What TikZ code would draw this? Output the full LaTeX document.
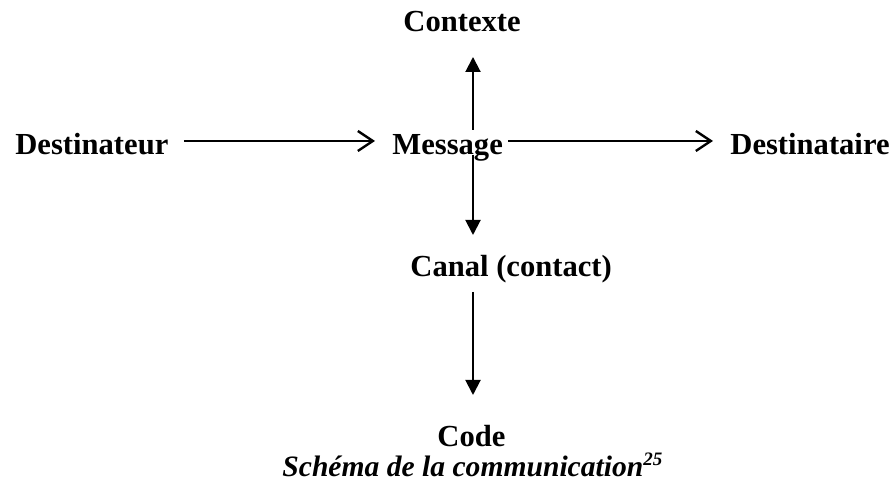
\documentclass[tikz,border=0pt]{standalone}
\usepackage{fontspec}
\setmainfont{Liberation Serif}
\usetikzlibrary{arrows.meta}
\begin{document}
\begin{tikzpicture}[x=0.5pt,y=0.5pt,
  lbl/.style={inner sep=0pt, anchor=base west, font=\fontsize{15.3}{18}\selectfont\bfseries},
  hor/.style={line width=1.1pt, -{Straight Barb[length=7.5pt,width=10pt,line width=1.2pt]}},
  ver/.style={line width=1pt, -{Triangle[length=7.5pt,width=7.5pt]}}]
  \useasboundingbox (0,0) rectangle (893,485);
  \node[lbl] (ctx) at (403,453) {Contexte};
  \node[lbl] (src) at (15,330) {Destinateur};
  \node[lbl] (msg) at (392,330) {Message};
  \node[lbl] (dst) at (730,330) {Destinataire};
  \node[lbl] (can) at (410,208) {Canal (contact)};
  \node[lbl] (cod) at (437,38) {Code};
  \node[lbl, font=\fontsize{14.8}{16}\selectfont\bfseries\itshape] (cap) at (282,8)
    {Schéma de la communication\raisebox{5.5pt}{\fontsize{9.5}{10}\selectfont 25}};
  \coordinate (axis) at (473,0);
  % horizontal flow
  \draw[hor] ([xshift=7.5pt,yshift=7pt]src.base east) -- ([xshift=-8.5pt,yshift=7pt]msg.base west);
  \draw[hor] ([xshift=2.5pt,yshift=7pt]msg.base east) -- ([xshift=-8.5pt,yshift=7pt]dst.base west);
  % vertical flow
  \draw[ver] ([yshift=12.5pt]msg.base -| axis) -- ([yshift=-12.5pt]ctx.base -| axis);
  \draw[ver] (msg.base -| axis) -- ([yshift=21pt]can.base -| axis);
  \draw[ver] ([yshift=-7.5pt]can.base -| axis) -- ([yshift=26pt]cod.base -| axis);
\end{tikzpicture}
\end{document}
